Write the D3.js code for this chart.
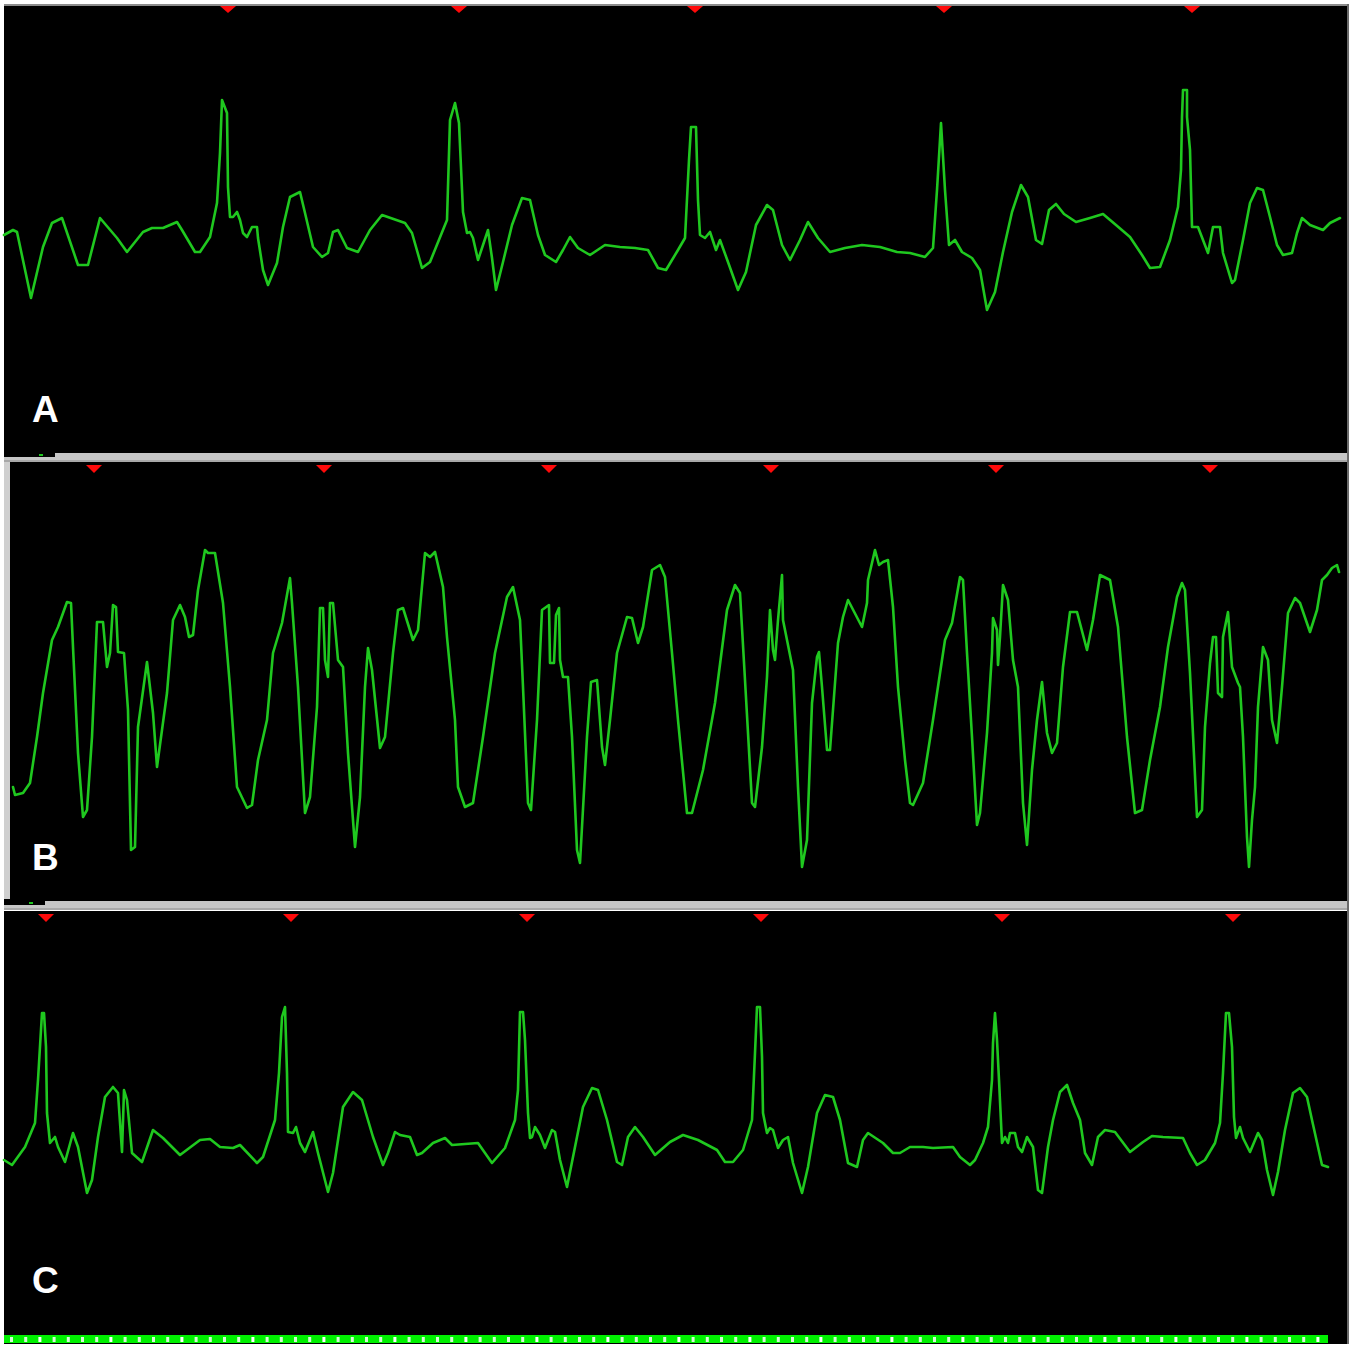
<!DOCTYPE html>
<html lang="en">
<head>
<meta charset="UTF-8">
<title>ECG strips A B C</title>
<script src="https://d3js.org/d3.v7.min.js"></script>
<style>
  body { margin: 0; background: #fff; }
  .label { font-family: "Liberation Sans", Arial, sans-serif; font-weight: bold; font-size: 37px; fill: #fff; }
  .trace { fill: none; stroke: #1fc81f; stroke-width: 2.6; stroke-linejoin: round; stroke-linecap: round; }
  .beat { fill: #ff0a0a; }
</style>
</head>
<body>
<script>
// [sample, amplitude]
const leadA = [[4,10],[13,15],[17,13],[31,-53],[43,-2],[52,22],[62,27],[78,-20],[88,-20],[100,27],[117,7],[127,-7],[143,13],[152,17],[163,17],[177,23],[182,15],[195,-7],[200,-7],[210,8],[217,42],[220,92],[222,145],[227,132],[228,58],[230,28],[233,28],[237,33],[240,25],[243,12],[247,8],[252,18],[257,18],[258,7],[263,-25],[268,-40],[277,-18],[283,18],[290,48],[300,53],[305,32],[313,-2],[322,-12],[328,-8],[333,13],[338,15],[347,-3],[358,-7],[370,15],[382,30],[405,22],[412,12],[422,-23],[430,-17],[447,25],[450,125],[455,142],[459,122],
  [463,33],[467,12],[470,13],[473,7],[478,-15],[483,0],[488,15],[492,-13],[496,-45],[503,-17],[512,20],[522,47],[530,45],[538,10],[545,-10],[556,-17],[563,-5],[570,8],[578,-3],[590,-10],[605,0],[620,-2],[635,-3],[648,-5],[658,-23],[666,-25],[678,-5],[685,7],[689,85],[691,118],[696,118],[698,45],[700,10],[705,7],[710,13],[716,-5],[720,5],[728,-17],[738,-45],[746,-27],[756,20],[767,40],[773,35],[782,0],[790,-15],[800,5],[808,23],[818,7],[830,-7],[845,-3],[862,0],[880,-2],[897,-7],[910,-8],[925,-12],[933,-3],[937,55],[941,122],[945,55],[949,0],[955,5],[962,-7],[972,-13],[980,-25],[987,-65],[995,-47],[1003,-7],[1012,33],[1021,60],[1028,48],[1036,5],[1042,1],[1049,35],[1056,41],[1064,31],[1076,23],[1090,27],[1103,31],[1116,20],[1130,8],[1142,-10],[1150,-23],
  [1160,-22],[1170,5],[1178,38],[1181,75],[1182,128],[1183,155],[1187,155],[1187,128],[1190,95],[1192,18],[1198,18],[1203,5],[1208,-8],[1213,18],[1220,18],[1223,-8],[1232,-38],[1235,-35],[1243,5],[1250,42],[1257,57],[1263,55],[1270,28],[1277,0],[1283,-10],[1292,-8],[1297,12],[1302,27],[1310,20],[1323,15],[1330,22],[1340,27]];

const leadB = [[13,-77],[15,-85],[23,-83],[30,-73],[37,-27],[43,17],[52,70],[58,83],[67,108],[71,107],[73,63],[78,-43],[83,-107],[87,-100],[92,-27],[97,88],[103,88],[107,43],[110,57],[113,105],[116,103],[118,58],[124,57],[128,0],[131,-140],[135,-137],[138,-17],[147,48],[153,-3],[157,-57],[167,17],[173,90],[180,105],[185,93],[189,73],[193,75],[198,120],[205,160],[208,157],[215,157],[223,107],[230,23],[237,-77],[247,-98],[252,-95],[258,-50],[267,-10],[273,57],[282,87],[290,132],[292,107],[298,23],[305,-103],[310,-87],[317,3],[320,102],[323,102],[325,50],[328,33],[330,107],[333,107],[338,50],[343,43],[348,-43],[355,-137],[360,-87],[365,23],[368,62],[372,40],[380,-38],[385,-27],[393,57],[398,100],[403,102],[413,70],[418,80],[425,157],[430,153],[435,158],[443,123],[447,73],
  [455,-10],[458,-77],[465,-97],[473,-93],[483,-27],[495,57],[507,113],[513,123],[520,90],[523,23],[528,-93],[531,-100],[537,-10],[542,100],[549,105],[550,47],[554,47],[556,95],[559,102],[560,50],[563,33],[568,33],[572,-27],[577,-140],[580,-153],[587,-27],[591,28],[597,30],[602,-37],[605,-55],[610,-10],[617,57],[627,93],[632,92],[638,67],[643,83],[652,140],[660,145],[665,133],[672,57],[678,-10],[687,-103],[692,-103],[703,-60],[715,7],[727,100],[735,125],[740,117],[745,30],[752,-93],[755,-97],[762,-37],[767,33],[770,100],[773,60],[775,50],[778,90],[782,135],[783,90],[793,40],[798,-77],[802,-157],[807,-130],[812,7],[817,53],[819,58],[822,23],[827,-40],[830,-40],[838,67],[843,93],[848,110],[862,83],[867,107],[868,130],[875,160],[879,145],[883,148],[888,150],
  [893,103],[898,23],[905,-50],[910,-93],[913,-95],[923,-73],[933,-10],[945,70],[952,87],[960,133],[963,130],[967,57],[972,-27],[977,-115],[980,-103],[987,-23],[992,57],[993,92],[997,80],[998,45],[1000,73],[1003,125],[1008,110],[1013,50],[1018,23],[1023,-93],[1027,-135],[1032,-60],[1037,-10],[1042,28],[1047,-23],[1052,-43],[1057,-33],[1063,43],[1070,98],[1077,98],[1087,60],[1093,90],[1100,135],[1110,130],[1118,83],[1127,-27],[1135,-103],[1142,-100],[1150,-50],[1160,3],[1168,63],[1177,113],[1182,127],[1185,120],[1190,37],[1197,-107],[1202,-100],[1205,-17],[1210,47],[1213,73],[1216,73],[1218,17],[1222,13],[1223,73],[1228,98],[1232,43],[1238,27],[1240,23],[1243,-27],[1247,-127],[1249,-157],[1252,-110],[1255,-77],[1258,3],[1263,63],[1268,50],[1272,-10],[1277,-33],[1282,23],[1288,97],[1295,112],[1300,107],[1310,78],[1317,100],[1322,130],[1327,135],[1332,142],[1337,145],[1339,138]];

const leadC = [[4,-15],[12,-20],[25,-2],[35,22],[38,65],[42,132],[44,132],[46,98],[47,32],[50,2],[55,8],[58,-2],[65,-17],[73,12],[78,-2],[87,-48],[92,-35],[98,8],[105,48],[113,58],[118,52],[122,-7],[124,55],[127,45],[132,-8],[142,-17],[153,15],[163,7],[180,-10],[200,5],[210,6],[220,-2],[233,-3],[240,0],[257,-18],[263,-12],[275,25],[279,72],[282,128],[285,138],[287,72],[288,13],[293,12],[296,18],[300,2],[305,-7],[313,13],[318,-8],[328,-47],[333,-28],[343,38],[353,53],[362,45],[373,8],[383,-20],[388,-8],[395,13],[400,10],[410,8],[417,-10],[422,-8],[433,2],[445,7],[452,0],
  [478,2],[492,-18],[505,-3],[515,25],[518,55],[520,133],[523,133],[525,105],[528,32],[530,7],[532,8],[535,18],[540,10],[545,-3],[552,15],[555,13],[560,-15],[567,-42],[573,-12],[583,38],[592,57],[598,55],[607,25],[617,-17],[622,-20],[628,8],[635,18],[643,8],[655,-10],[670,3],[683,10],[698,5],[717,-5],[725,-17],[733,-17],[743,-5],[752,25],[755,92],[757,138],[760,138],[762,88],[763,32],[767,12],[770,17],[773,15],[778,-3],[783,5],[788,8],[793,-18],[802,-48],[808,-22],[817,32],[825,50],[833,48],[840,25],[848,-18],[857,-22],[863,5],[868,12],[883,2],[893,-8],
  [900,-8],[910,-2],[923,-2],[933,-3],[953,-2],[960,-12],[970,-20],[975,-15],[983,2],[988,18],[992,65],[993,102],[995,132],[997,105],[999,65],[1002,2],[1005,8],[1008,2],[1010,12],[1015,12],[1018,-2],[1022,-7],[1027,8],[1033,-2],[1038,-45],[1042,-48],[1048,-2],[1053,25],[1060,53],[1067,60],[1073,42],[1080,25],[1085,-8],[1092,-20],[1098,8],[1105,15],[1115,13],[1130,-7],[1143,3],[1152,9],[1163,8],[1183,7],[1190,-8],[1197,-20],[1205,-15],[1215,2],[1220,22],[1223,72],[1226,132],[1229,132],[1232,98],[1234,28],[1236,7],[1240,18],[1243,7],[1250,-7],[1258,12],[1262,5],[1267,-25],[1273,-50],[1278,-27],[1285,15],[1293,52],[1300,57],[1307,48],[1312,25],[1322,-20],[1328,-22]];

// beat markers (sample positions)
const beatsA = [228, 459, 695, 944, 1192];
const beatsB = [94, 324, 549, 771, 996, 1210];
const beatsC = [46, 291, 527, 761, 1002, 1233];
const labels = ["A", "B", "C"];

const W = 1355, H = 1345;
const svg = d3.select("body").append("svg")
  .attr("width", W).attr("height", H);

svg.append("rect").attr("width", W).attr("height", H).attr("fill", "#fff");

const x = d3.scaleLinear().domain([0, 1355]).range([0, 1355]);

// panel layout
const panels = [
  { top: 6, bottom: 453, base: 245, data: leadA, beats: beatsA },
  { top: 462, bottom: 901, base: 710, data: leadB, beats: beatsB },
  { top: 911, bottom: 1334, base: 1145, data: leadC, beats: beatsC }
];

// top edge
svg.append("rect").attr("x", 4).attr("y", 4).attr("width", 1344).attr("height", 2).attr("fill", "#8c8c8c");

panels.forEach((p, i) => {
  svg.append("rect")
    .attr("x", 4).attr("y", p.top)
    .attr("width", 1343).attr("height", p.bottom - p.top)
    .attr("fill", "#000");

  const y = d3.scaleLinear().domain([0, 100]).range([p.base, p.base - 100]);
  const line = d3.line().x(d => x(d[0])).y(d => y(d[1]));

  svg.append("path").datum(p.data).attr("class", "trace").attr("d", line);

  const t0 = p.top + (i ? 3 : 0), t1 = p.top + (i ? 11 : 7);
  svg.selectAll(null).data(p.beats).enter().append("path")
    .attr("class", "beat")
    .attr("d", d => `M${x(d) - 8},${t0}L${x(d) + 8},${t0}L${x(d)},${t1}Z`);

  svg.append("text").attr("class", "label")
    .attr("x", 32).attr("y", p.bottom - (i === 2 ? 41 : 31))
    .text(labels[i]);
});

// separators between strips
[453, 901].forEach((sy, i) => {
  svg.append("rect").attr("x", 4).attr("y", sy).attr("width", 1343).attr("height", 9).attr("fill", "#c6c6c6");
  svg.append("rect").attr("x", 4).attr("y", sy + 7).attr("width", 1343).attr("height", 2).attr("fill", "#a8a8a8");
  svg.append("rect").attr("x", 4).attr("y", sy).attr("width", i ? 41 : 51).attr("height", 4).attr("fill", "#000");
  svg.append("rect").attr("x", i ? 29 : 39).attr("y", sy + 1).attr("width", 4).attr("height", 2).attr("fill", "#1ec41e");
});

// left bar on strip B
svg.append("rect").attr("x", 4).attr("y", 462).attr("width", 6).attr("height", 437).attr("fill", "#cfcfcf");

// bottom green ruler
svg.append("rect").attr("x", 4).attr("y", 1334).attr("width", 1343).attr("height", 10).attr("fill", "#000");
svg.append("rect").attr("x", 4).attr("y", 1335).attr("width", 1324).attr("height", 8).attr("fill", "#00f000");
svg.selectAll(null).data(d3.range(10, 1326, 14.2)).enter().append("rect")
  .attr("x", d => d).attr("y", 1337).attr("width", 3).attr("height", 5)
  .attr("fill", (d, k) => k % 5 === 2 ? "#ffffff" : "#d8f8d8");

// right edge
svg.append("rect").attr("x", 1347).attr("y", 4).attr("width", 2).attr("height", 1340).attr("fill", "#6a6a6a");
</script>
</body>
</html>
